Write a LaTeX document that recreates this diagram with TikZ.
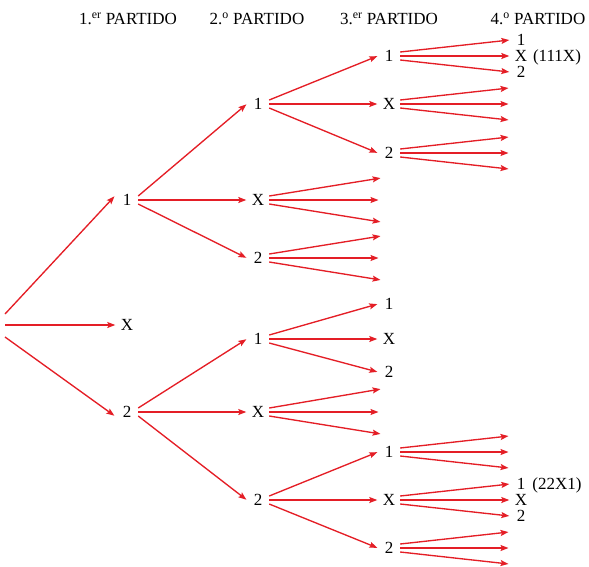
\documentclass[tikz,border=0pt]{standalone}
\usepackage{fontspec}
\setmainfont{Liberation Serif}
\usetikzlibrary{arrows.meta}
\definecolor{treered}{RGB}{228,30,38}
\newcommand\fanto[4]{%
  \draw[arr] ([yshift=4pt]#1.east) -- (#2);
  \draw[arr] (#1.east) -- (#3);
  \draw[arr] ([yshift=-4pt]#1.east) -- (#4);}
\begin{document}
\begin{tikzpicture}[x=1pt,y=-1pt,
  lab/.style={inner sep=0pt, minimum width=22pt, text height=11.5pt, text depth=0pt,
    font=\fontsize{17}{20}\selectfont},
  head/.style={inner sep=0pt, text height=11pt, text depth=0pt,
    font=\fontsize{17}{20}\selectfont},
  arr/.style={draw=treered, line width=1.35pt,
    -{Stealth[length=8pt,width=6pt,inset=1.5pt]}, shorten >=0.5pt}]
\useasboundingbox (0,0) rectangle (589,566);
% headers
\node[head] (h1) at (128,19) {1.\textsuperscript{er} PARTIDO};
\node[head] (h2) at (257,19) {2.\textsuperscript{o} PARTIDO};
\node[head] (h3) at (389,19) {3.\textsuperscript{er} PARTIDO};
\node[head] (h4) at (538,19) {4.\textsuperscript{o} PARTIDO};
% root
\coordinate (r) at (5,325);
% level 1
\node[lab] (a1) at (127,200) {1};
\node[lab] (aX) at (127,325) {X};
\node[lab] (a2) at (127,412) {2};
\draw[arr] ([yshift=11pt]r) -- ([xshift=-1pt,yshift=4pt]a1.west);
\draw[arr] (r) -- (aX.west);
\draw[arr] ([yshift=-12pt]r) -- ([xshift=-1pt,yshift=-4pt]a2.west);
% level 2
\node[lab] (b11) at (258,104) {1};
\node[lab] (b1X) at (258,200) {X};
\node[lab] (b12) at (258,258) {2};
\node[lab] (b21) at (258,339) {1};
\node[lab] (b2X) at (258,412) {X};
\node[lab] (b22) at (258,500) {2};
\fanto{a1}{b11.west}{b1X.west}{b12.west}
\fanto{a2}{b21.west}{b2X.west}{b22.west}
% level 3
\node[lab] (c111) at (389,56) {1};
\node[lab] (c11X) at (389,104) {X};
\node[lab] (c112) at (389,153) {2};
\node[lab] (c211) at (389,304) {1};
\node[lab] (c21X) at (389,339) {X};
\node[lab] (c212) at (389,372) {2};
\node[lab] (c221) at (389,452) {1};
\node[lab] (c22X) at (389,500) {X};
\node[lab] (c222) at (389,548) {2};
\coordinate (e1a) at (381,178); \coordinate (e1b) at (379,200); \coordinate (e1c) at (381,222);
\coordinate (e2a) at (381,236); \coordinate (e2b) at (379,258); \coordinate (e2c) at (381,280);
\coordinate (e3a) at (381,389); \coordinate (e3b) at (379,412); \coordinate (e3c) at (381,434);
\fanto{b11}{c111.west}{c11X.west}{c112.west}
\fanto{b1X}{e1a}{e1b}{e1c}
\fanto{b12}{e2a}{e2b}{e2c}
\fanto{b21}{c211.west}{c21X.west}{c212.west}
\fanto{b2X}{e3a}{e3b}{e3c}
\fanto{b22}{c221.west}{c22X.west}{c222.west}
% level 4
\node[lab] (d1) at (521,40) {1};
\node[lab] (dX) at (521,56) {X};
\node[lab] (d2) at (521,72) {2};
\node[lab] (dn1) at (557,56) {(111X)};
\fanto{c111}{d1.west}{dX.west}{d2.west}
\coordinate (f1a) at (509,88); \coordinate (f1b) at (509,104); \coordinate (f1c) at (509,120);
\coordinate (f2a) at (509,137); \coordinate (f2b) at (509,153); \coordinate (f2c) at (509,169);
\fanto{c11X}{f1a}{f1b}{f1c}
\fanto{c112}{f2a}{f2b}{f2c}
\coordinate (f3a) at (509,436); \coordinate (f3b) at (509,452); \coordinate (f3c) at (509,468);
\fanto{c221}{f3a}{f3b}{f3c}
\node[lab] (g1) at (521,484) {1};
\node[lab] (gX) at (521,500) {X};
\node[lab] (g2) at (521,516) {2};
\node[lab] (gn1) at (557,484) {(22X1)};
\fanto{c22X}{g1.west}{gX.west}{g2.west}
\coordinate (f4a) at (509,532); \coordinate (f4b) at (509,548); \coordinate (f4c) at (509,564);
\fanto{c222}{f4a}{f4b}{f4c}
\end{tikzpicture}
\end{document}
